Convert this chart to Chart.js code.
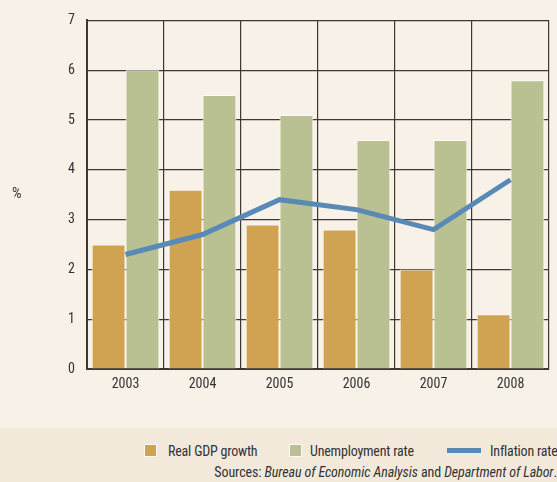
<!DOCTYPE html>
<html>
<head>
<meta charset="utf-8">
<script src="https://cdn.jsdelivr.net/npm/chart.js@4/dist/chart.umd.min.js"></script>
<style>
  body { margin: 0; background: #f8f1e7; }
  #wrap { position: relative; width: 557px; height: 482px; overflow: hidden; font-family: "Roboto Condensed", "Roboto", sans-serif; color: #333; }
  #box { position: absolute; left: 0; top: 0; width: 557px; height: 400px; }
  #pct { position: absolute; left: 12px; top: 184px; font-size: 15px; }
  #band { position: absolute; left: 0; top: 428px; width: 557px; height: 54px; background: #f2e9db; }
  .item { position: absolute; top: 14px; font-size: 14px; letter-spacing: -0.2px; line-height: 18px; white-space: nowrap; }
  .sw { position: absolute; top: 16px; width: 13px; height: 13px; box-sizing: border-box; border: 1px solid #fdfaf3; }
  #src { position: absolute; right: 0; top: 35px; font-size: 14px; letter-spacing: -0.1px; line-height: 18px; white-space: nowrap; }
</style>
</head>
<body>
<div id="wrap">
  <div id="box"><canvas id="chart"></canvas></div>
  <span id="pct">%</span>
  <div id="band">
    <div class="sw" style="left:144px;background:#d0a352"></div>
    <span class="item" style="left:168px">Real GDP growth</span>
    <div class="sw" style="left:289px;background:#b9c092"></div>
    <span class="item" style="left:310px">Unemployment rate</span>
    <div style="position:absolute;left:447px;top:20px;width:34px;height:5px;background:#5889b7"></div>
    <span class="item" style="left:490px">Inflation rate</span>
    <span id="src">Sources: <i>Bureau of Economic Analysis</i> and <i>Department of Labor</i>.</span>
  </div>
</div>
<script>
const years = ['2003', '2004', '2005', '2006', '2007', '2008'];
const gdpGrowth = [2.5, 3.6, 2.9, 2.8, 2.0, 1.1];
const unemployment = [6.0, 5.5, 5.1, 4.6, 4.6, 5.8];
const inflation = [2.3, 2.7, 3.4, 3.2, 2.8, 3.8];

const gridColor = '#3b3835';
const tickFont = { family: '"Roboto Condensed", Roboto, sans-serif', size: 14 };

new Chart(document.getElementById('chart'), {
  type: 'bar',
  data: {
    labels: years,
    datasets: [
      {
        type: 'line',
        label: 'Inflation rate',
        data: inflation,
        borderColor: '#5889b7',
        borderWidth: 5,
        pointRadius: 0,
        tension: 0,
        order: 0
      },
      {
        label: 'Real GDP growth',
        data: gdpGrowth,
        backgroundColor: '#d0a352',
        borderColor: '#fdfaf3',
        borderWidth: 1,
        categoryPercentage: 0.88,
        barPercentage: 1,
        order: 1
      },
      {
        label: 'Unemployment rate',
        data: unemployment,
        backgroundColor: '#b9c092',
        borderColor: '#fdfaf3',
        borderWidth: 1,
        categoryPercentage: 0.88,
        barPercentage: 1,
        order: 2
      }
    ]
  },
  options: {
    responsive: true,
    maintainAspectRatio: false,
    animation: false,
    layout: { padding: { top: 20, right: 8, left: 0, bottom: 0 } },
    plugins: {
      legend: { display: false },
      tooltip: { enabled: false }
    },
    scales: {
      x: {
        grid: { color: gridColor, lineWidth: 1.2, drawTicks: false, offset: true },
        border: { color: gridColor, width: 2 },
        ticks: { color: '#333', padding: 7, font: tickFont },
        afterFit: s => { s.height = 31; }
      },
      y: {
        min: 0,
        max: 7,
        grid: { color: gridColor, lineWidth: 1.2, drawTicks: false },
        border: { color: gridColor, width: 2 },
        ticks: { stepSize: 1, color: '#333', padding: 12, font: tickFont },
        afterFit: s => { s.width = 87; }
      }
    }
  }
});
</script>
</body>
</html>
